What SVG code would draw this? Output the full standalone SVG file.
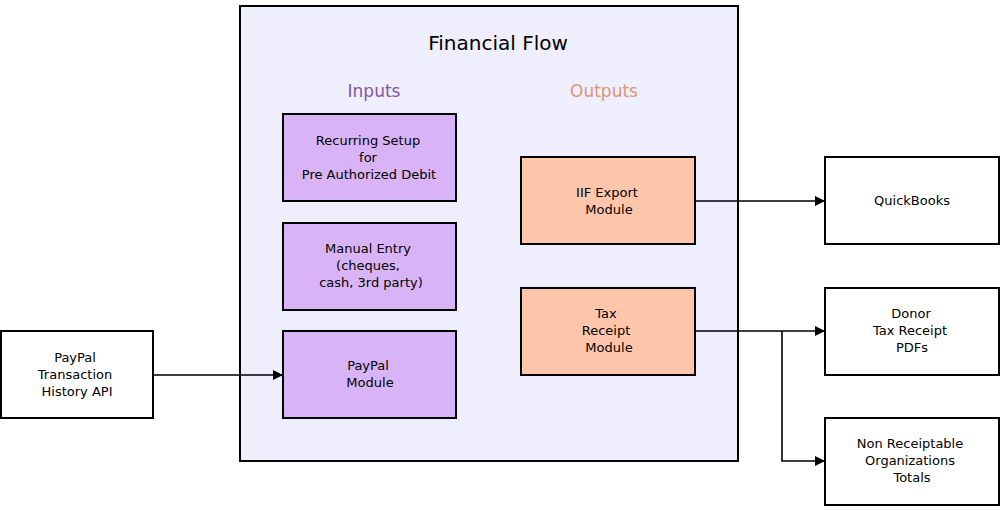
<svg xmlns="http://www.w3.org/2000/svg" width="1000" height="511" viewBox="0 0 1000 511">
<style>
text{font-family:"DejaVu Sans",sans-serif;font-size:13px;text-anchor:middle;fill:#000}
.b{stroke:#000;stroke-width:2}
.in{fill:#d8b4f6}.out{fill:#ffc6ab}.ext{fill:#fff}
.c{stroke:#000;stroke-width:1.6;fill:none}
</style>
<defs><marker id="a" markerWidth="10" markerHeight="10" refX="9" refY="5" orient="auto" markerUnits="userSpaceOnUse" viewBox="0 0 10 10"><path d="M0,0 L10,5 L0,10 z" fill="#000"/></marker></defs>
<g id="cluster"><rect x="240" y="6" width="498" height="455" fill="#efeefd" class="b"/>
<text x="498" y="50" style="font-size:20px">Financial Flow</text>
<text x="374" y="97" style="font-size:17px;fill:#8056a6">Inputs</text>
<text x="604" y="97" style="font-size:17px;fill:#d99878">Outputs</text></g>
<g id="recurring"><rect x="283" y="114" width="173" height="87" class="b in"/><text x="368" y="145">Recurring Setup</text><text x="368" y="162">for</text><text x="369" y="179">Pre Authorized Debit</text></g>
<g id="manual"><rect x="283" y="223" width="173" height="87" class="b in"/><text x="368" y="253">Manual Entry</text><text x="368" y="270">(cheques,</text><text x="371" y="287">cash, 3rd party)</text></g>
<g id="paypalmod"><rect x="283" y="331" width="173" height="87" class="b in"/><text x="368" y="370">PayPal</text><text x="370" y="387">Module</text></g>
<g id="iif"><rect x="521" y="157" width="174" height="87" class="b out"/><text x="607" y="197">IIF Export</text><text x="609" y="214">Module</text></g>
<g id="tax"><rect x="521" y="288" width="174" height="87" class="b out"/><text x="606" y="318">Tax</text><text x="606" y="335">Receipt</text><text x="609" y="352">Module</text></g>
<g id="paypalapi"><rect x="1" y="331" width="152" height="87" class="b ext"/><text x="75" y="362">PayPal</text><text x="75" y="379">Transaction</text><text x="77" y="396">History API</text></g>
<g id="quickbooks"><rect x="825" y="157" width="174" height="87" class="b ext"/><text x="912" y="205">QuickBooks</text></g>
<g id="donor"><rect x="825" y="288" width="174" height="87" class="b ext"/><text x="911" y="318">Donor</text><text x="910" y="335">Tax Receipt</text><text x="912" y="352">PDFs</text></g>
<g id="nonreceipt"><rect x="825" y="418" width="174" height="87" class="b ext"/><text x="910" y="448">Non Receiptable</text><text x="910" y="465">Organizations</text><text x="912" y="482">Totals</text></g>
<g id="connectors">
<path d="M153,375 H282" class="c" marker-end="url(#a)"/>
<path d="M695,201 H824" class="c" marker-end="url(#a)"/>
<path d="M695,331 H824" class="c" marker-end="url(#a)"/>
<path d="M782,331 V461 H824" class="c" marker-end="url(#a)"/>
</g>
</svg>
